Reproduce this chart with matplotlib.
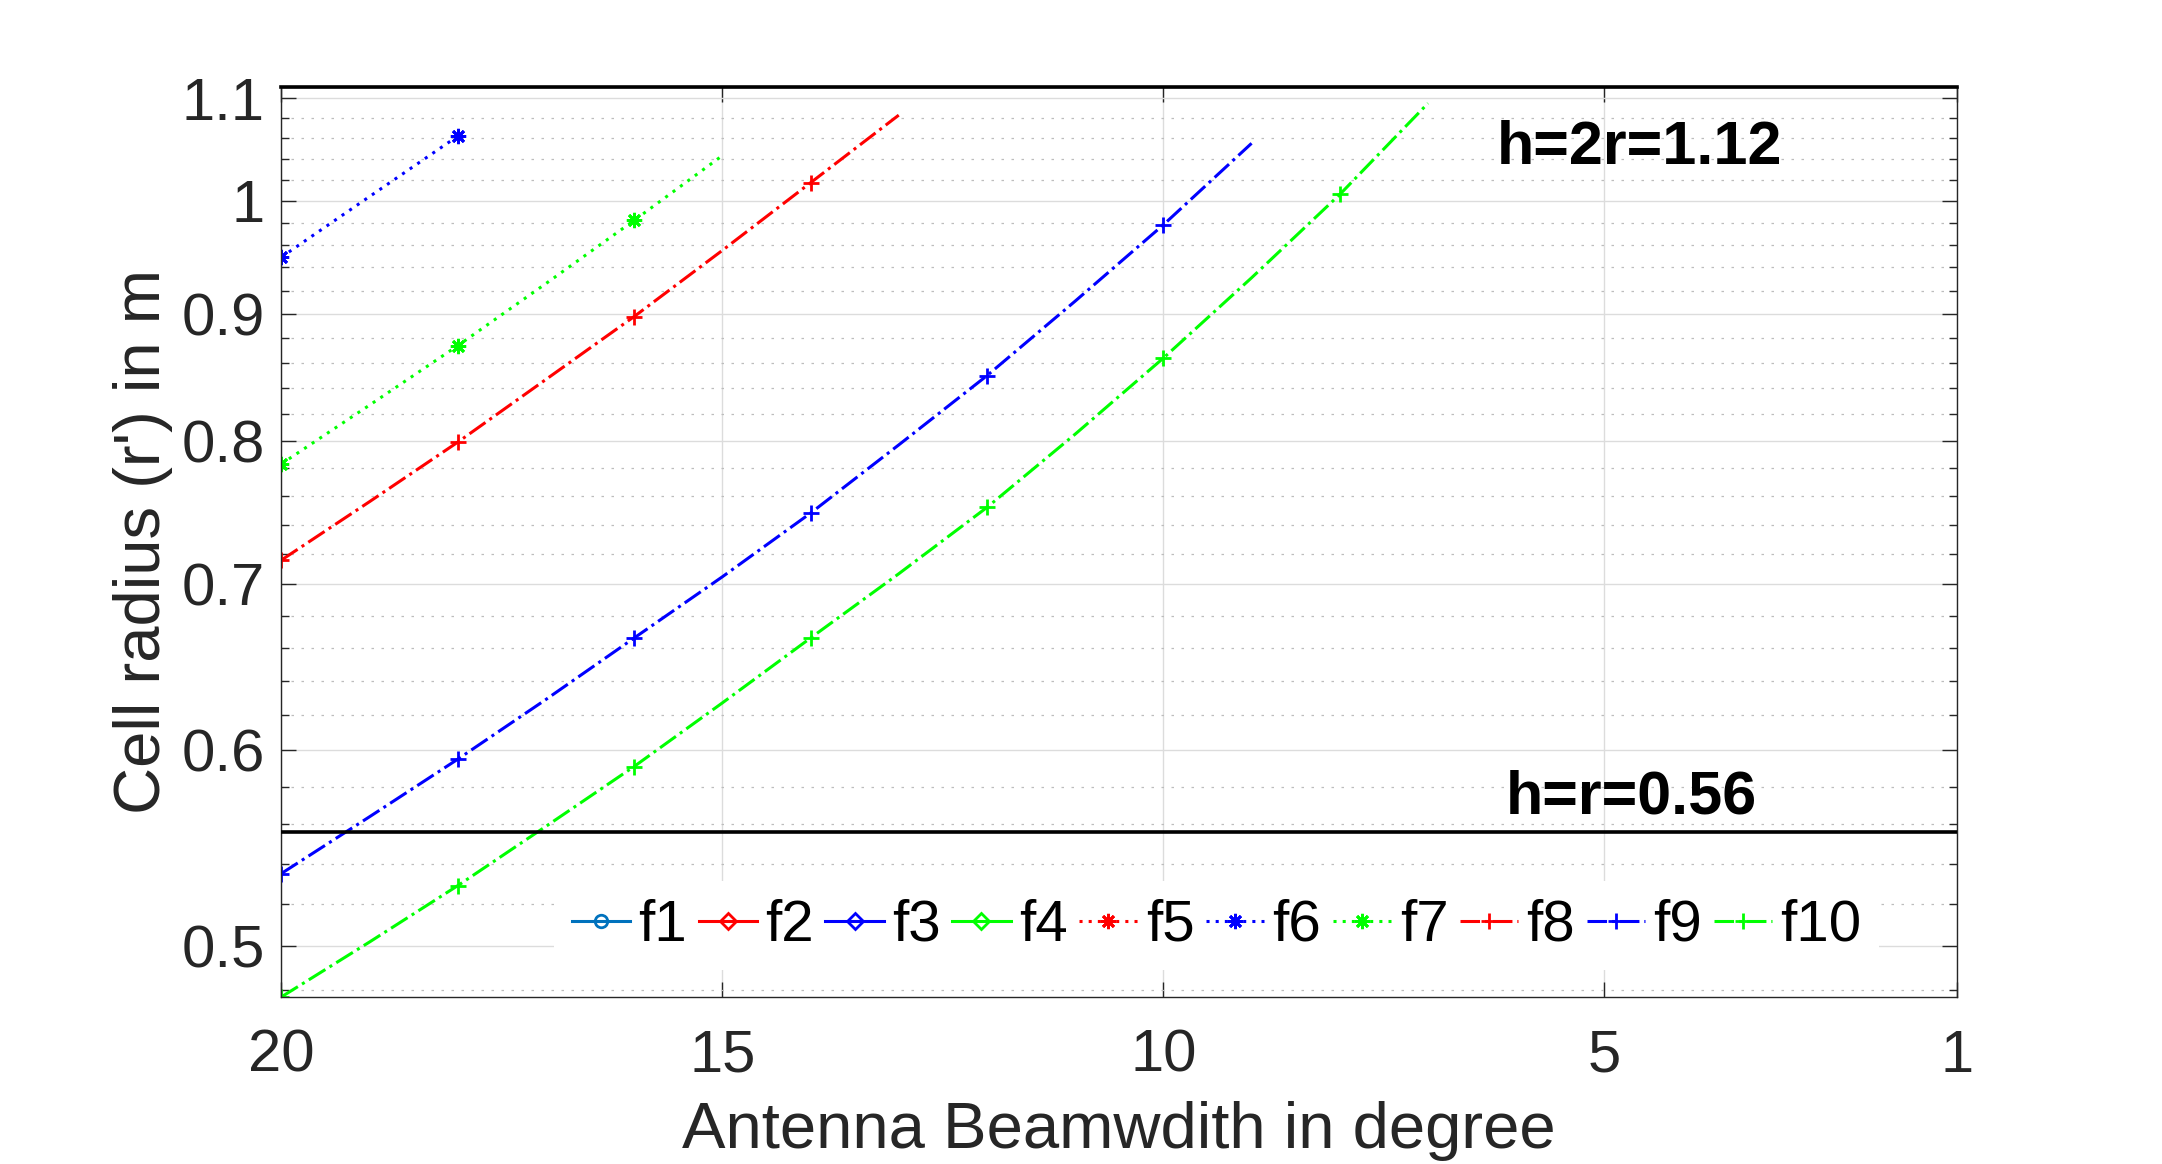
import matplotlib
matplotlib.use('Agg')
import matplotlib.pyplot as plt
from matplotlib.ticker import MultipleLocator, FixedLocator, FuncFormatter, NullFormatter

# antenna beamwidth (degree), one sample per degree, markers every 2 degrees
beamwidth = [20, 19, 18, 17, 16, 15, 14, 13, 12, 11, 10, 9, 8, 7]

# cell radius r' (m); f1-f5 lie above the plotted range
f1 = []
f2 = []
f3 = []
f4 = []
f5 = []
f6 = [0.949, 1.004, 1.062]
f7 = [0.783, 0.827, 0.874, 0.926, 0.982, 1.043]
f8 = [0.716, 0.756, 0.799, 0.847, 0.898, 0.955, 1.017, 1.083]
f9 = [0.535, 0.564, 0.595, 0.629, 0.666, 0.705, 0.748, 0.797, 0.850, 0.911, 0.978, 1.055]
f10 = [0.477, 0.502, 0.529, 0.559, 0.591, 0.627, 0.666, 0.707, 0.752, 0.805, 0.864, 0.931, 1.006, 1.095]

names = ['f1', 'f2', 'f3', 'f4', 'f5', 'f6', 'f7', 'f8', 'f9', 'f10']
series = [f1, f2, f3, f4, f5, f6, f7, f8, f9, f10]

# reference heights
h_2r = 1.112
h_r = 0.556
h_2r_label = 'h=2r=1.12'
h_r_label = 'h=r=0.56'

xticks = [20, 15, 10, 5, 1]

plt.rcParams['font.family'] = ['Liberation Sans', 'DejaVu Sans']

ast = (8, 2, 0)
dot = (0, (1, 2.0))
styles = [
    dict(color='#0072BD', ls='-', marker='o', ms=9, mfc='none'),
    dict(color='r', ls='-', marker='D', ms=8, mfc='none'),
    dict(color='b', ls='-', marker='D', ms=8, mfc='none'),
    dict(color=(0, 1, 0), ls='-', marker='D', ms=8, mfc='none'),
    dict(color='r', ls=dot, marker=ast, ms=11),
    dict(color='b', ls=dot, marker=ast, ms=11),
    dict(color=(0, 1, 0), ls=dot, marker=ast, ms=11),
    dict(color='r', ls='-.', marker='+', ms=11),
    dict(color='b', ls='-.', marker='+', ms=11),
    dict(color=(0, 1, 0), ls='-.', marker='+', ms=11),
]

fig = plt.figure(figsize=(21.62, 11.64), dpi=100)
ax = fig.add_axes([0.1301, 0.1435, 0.7752, 0.7820])
ax.set_yscale('log')

for name, vals, st in zip(names, series, styles):
    ax.plot(beamwidth[:len(vals)], vals, lw=2.2, mew=2.0, markevery=2, label=name, **st)

ax.axhline(h_2r, color='k', lw=2.6, clip_on=False, zorder=5)
ax.axhline(h_r, color='k', lw=2.6, zorder=5)
ax.text(6.22, 1.035, h_2r_label, fontsize=44, fontweight='bold', ha='left', va='baseline')
ax.text(6.12, 0.5658, h_r_label, fontsize=44, fontweight='bold', ha='left', va='baseline')

ax.set_xlim(20, 1)
ax.set_ylim(0.477, h_2r)
ax.xaxis.set_major_locator(FixedLocator(xticks))
ax.yaxis.set_major_locator(MultipleLocator(0.1))
ax.yaxis.set_minor_locator(MultipleLocator(0.02))
ax.yaxis.set_major_formatter(FuncFormatter(lambda v, p: '%g' % round(v, 2)))
ax.yaxis.set_minor_formatter(NullFormatter())

ax.grid(True, which='major', color='#dcdcdc', lw=1.0)
ax.grid(True, which='minor', axis='y', color='#bdbdbd', lw=0.9, ls=(0, (2, 6)))
ax.set_axisbelow(True)

ax.tick_params(which='both', direction='in', top=True, right=True, colors='#262626', width=1.0)
ax.tick_params(which='major', length=11, labelsize=43)
ax.tick_params(which='minor', length=6)
ax.tick_params(axis='x', pad=23)
ax.tick_params(axis='y', pad=12)
for s in ax.spines.values():
    s.set_color('#262626')
    s.set_linewidth(1.0)

ax.set_xlabel('Antenna Beamwdith in degree', fontsize=47, color='#262626', labelpad=12)
ax.set_ylabel("Cell radius (r') in m", fontsize=47, color='#262626', labelpad=6)

leg = ax.legend(loc='center', bbox_to_anchor=(0.558, 0.078), ncol=10, fontsize=42,
                handlelength=1.0, handletextpad=0.14, columnspacing=0.2,
                borderpad=0.3, frameon=True, fancybox=False, framealpha=1)
leg.get_frame().set_edgecolor('none')
leg.get_frame().set_facecolor('white')

fig.savefig('out.png', dpi=100)
